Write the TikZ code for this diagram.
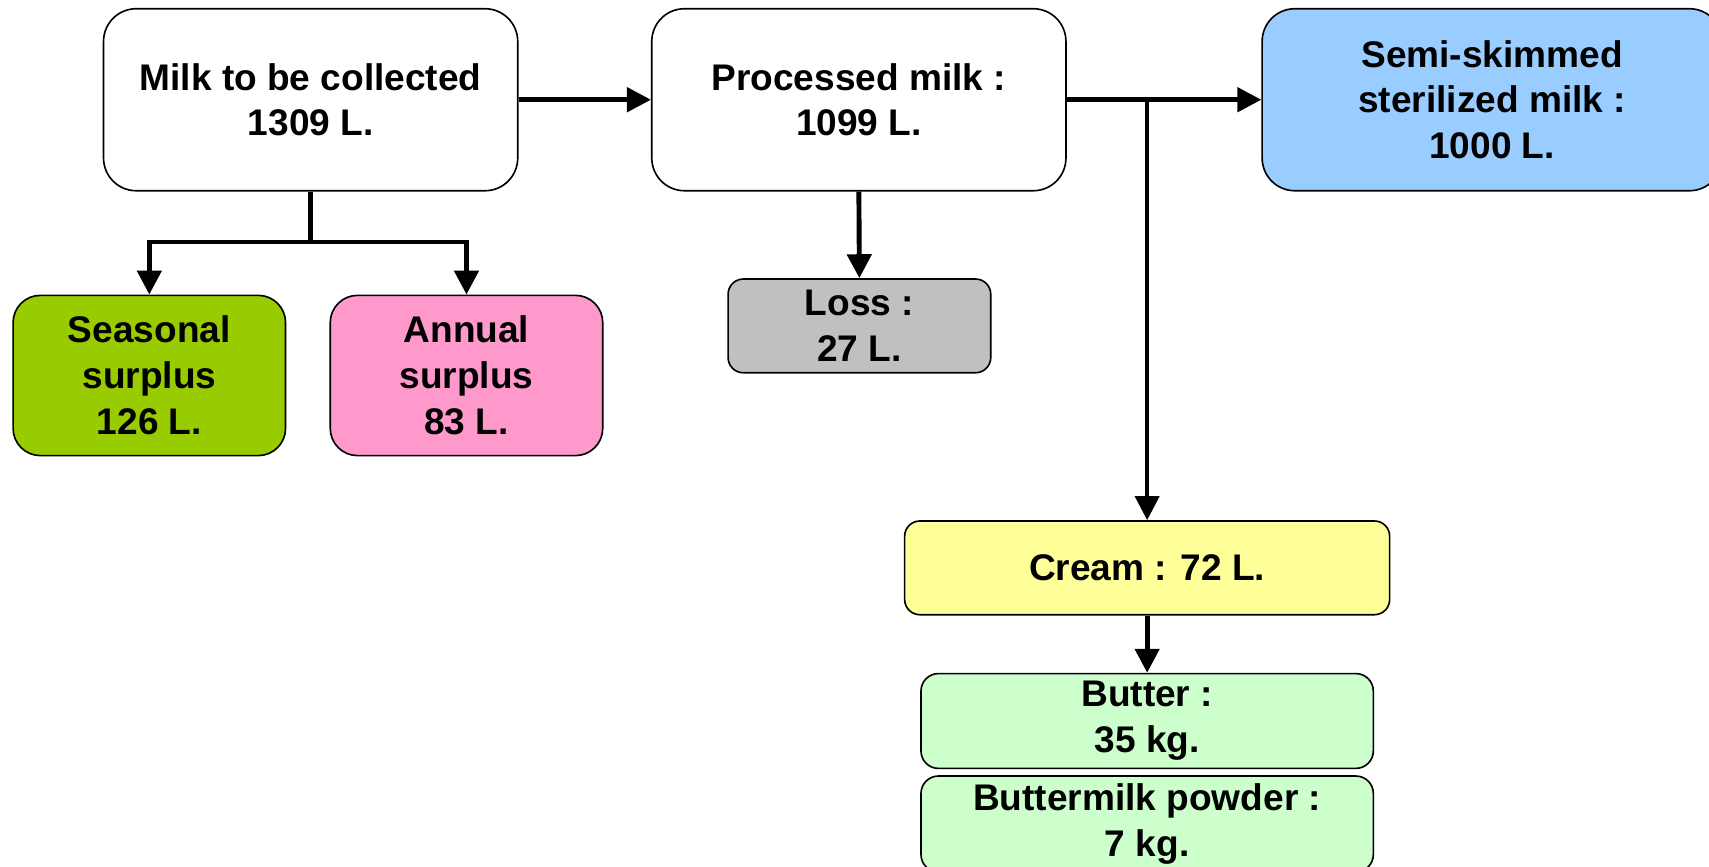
\documentclass[tikz,border=0pt]{standalone}
\usepackage{fontspec}
\setmainfont{Liberation Sans}
\usetikzlibrary{arrows.meta}
\definecolor{cgreen}{HTML}{99CC00}
\definecolor{cpink}{HTML}{FF99CC}
\definecolor{cgray}{HTML}{C0C0C0}
\definecolor{cblue}{HTML}{99CCFF}
\definecolor{cyellow}{HTML}{FFFF99}
\definecolor{clgreen}{HTML}{CCFFCC}
\begin{document}
\begin{tikzpicture}[x=1pt,y=-1pt,
  box/.style={draw=black,line width=1.5pt,inner sep=0pt,align=center,
    font=\fontsize{34}{42}\selectfont\bfseries},
  conn/.style={line width=4.5pt},
  arr/.style={line width=4.5pt,-{Triangle[length=22pt,width=22pt]}},
]
\useasboundingbox (0,0) rectangle (1568,795);
\clip (0,0) rectangle (1568,795);
\node[box,fill=white,rounded corners=30pt,minimum width=380pt,minimum height=167pt] (milk) at (285,91.5) {Milk to be collected\\1309 L.};
\node[box,fill=white,rounded corners=30pt,minimum width=380pt,minimum height=167pt] (proc) at (788,91.5) {Processed milk :\\1099 L.};
\node[box,fill=cblue,rounded corners=30pt,minimum width=422pt,minimum height=167pt] (semi) at (1369,91.5) {Semi-skimmed\\sterilized milk :\\1000 L.};
\node[box,fill=cgreen,rounded corners=25pt,minimum width=250pt,minimum height=147pt] (seas) at (137,344.5) {Seasonal\\surplus\\126 L.};
\node[box,fill=cpink,rounded corners=25pt,minimum width=250pt,minimum height=147pt] (ann) at (428,344.5) {Annual\\surplus\\83 L.};
\node[box,fill=cgray,rounded corners=14pt,minimum width=241pt,minimum height=86pt] (loss) at (788.5,299) {Loss :\\27 L.};
\node[box,fill=cyellow,rounded corners=14pt,minimum width=445pt,minimum height=86pt] (cream) at (1052.5,521) {Cream : 72 L.};
\node[box,fill=clgreen,rounded corners=16pt,minimum width=415pt,minimum height=87pt] (butter) at (1052.5,661.5) {Butter :\\35 kg.};
\node[box,fill=clgreen,rounded corners=16pt,minimum width=415pt,minimum height=88pt] (bmp) at (1052.5,756) {Buttermilk powder :\\7 kg.};
\coordinate (j1) at (285,222);
\coordinate (j2) at (1052.5,91.5);
\draw[arr] (milk.east) -- (proc.west);
\draw[conn] (milk.south) -- (j1);
\draw[arr] ([xshift=2pt]j1) -| (seas.north);
\draw[arr] ([xshift=-2pt]j1) -| (ann.north);
\draw[arr] (proc.south) -- (loss.north);
\draw[arr] (proc.east) -- (semi.west);
\draw[line width=3.5pt,-{Triangle[length=22pt,width=22pt]}] (j2) -- (cream.north);
\draw[arr] (cream.south) -- (butter.north);
\end{tikzpicture}
\end{document}
